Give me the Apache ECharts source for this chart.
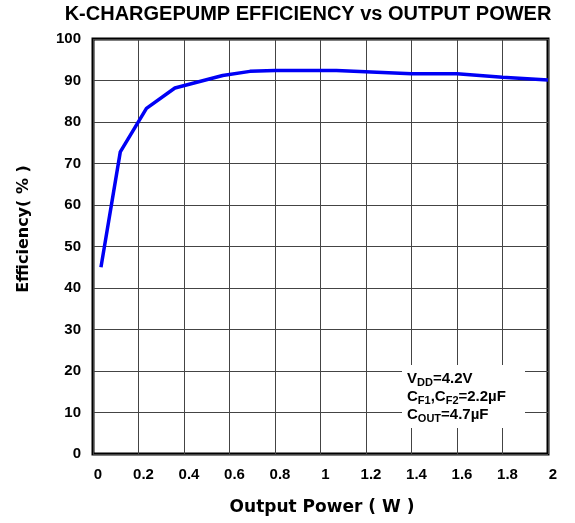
<!DOCTYPE html>
<html>
<head>
<meta charset="utf-8">
<script src="https://cdn.jsdelivr.net/npm/echarts@6/dist/echarts.min.js"></script>
<style>
  html, body { margin: 0; padding: 0; background: #fff; }
  #chart { width: 575px; height: 523px; }
</style>
</head>
<body>
<div id="chart"></div>
<script>
// output power (W) vs efficiency (%)
const powerW = [0.035, 0.12, 0.235, 0.36, 0.57, 0.69, 0.8, 1.07, 1.4, 1.6, 1.8, 2.0]
const efficiency = [45, 72.8, 83.3, 88.2, 91.2, 92.2, 92.4, 92.4, 91.6, 91.6, 90.8, 90.1]
const titleText = 'K-CHARGEPUMP EFFICIENCY vs OUTPUT POWER'
const xName = 'Output Power ( W )'
const yName = 'Efficiency( % )'

const font = 'Arial, "Liberation Sans", sans-serif'
const wide = '"DejaVu Sans", Arial, sans-serif'
const chart = echarts.init(document.getElementById('chart'))

chart.setOption({
  animation: false,
  grid: {
    left: 93, right: 27, top: 39, bottom: 69,
    show: true, borderColor: '#000', borderWidth: 3
  },
  xAxis: {
    type: 'value', min: 0, max: 2, interval: 0.2,
    axisLine: { show: false },
    axisTick: { show: false },
    axisLabel: {
      margin: 13, padding: [0, 0, 0, 10],
      color: '#000', fontSize: 15, fontWeight: 'bold', fontFamily: font
    },
    splitLine: { lineStyle: { color: '#444', width: 1 } }
  },
  yAxis: {
    type: 'value', min: 0, max: 100, interval: 10,
    axisLine: { show: false },
    axisTick: { show: false },
    axisLabel: { margin: 12, color: '#000', fontSize: 15, fontWeight: 'bold', fontFamily: font },
    splitLine: { lineStyle: { color: '#444', width: 1 } }
  },
  series: [{
    type: 'line',
    data: powerW.map((p, i) => [p, efficiency[i]]),
    showSymbol: false,
    lineStyle: { color: '#0000f5', width: 3.5 },
    z: 3
  }],
  graphic: [
    {
      type: 'text', x: 308, y: 14, z: 10,
      style: { text: titleText, align: 'center', verticalAlign: 'middle',
        font: 'bold 20px ' + font, fill: '#000' }
    },
    {
      type: 'text', x: 322, y: 508, z: 10,
      style: { text: xName, align: 'center', verticalAlign: 'middle',
        font: 'bold 17px ' + wide, fill: '#000' }
    },
    {
      type: 'text', x: 24, y: 229, rotation: Math.PI / 2, z: 10,
      style: { text: yName, align: 'center', verticalAlign: 'middle',
        font: 'bold 16px ' + wide, fill: '#000' }
    },
    {
      type: 'rect', z: 5,
      shape: { x: 402, y: 365, width: 123, height: 63 },
      style: { fill: '#fff' }
    },
    {
      type: 'text', x: 407, y: 368, z: 10,
      style: {
        text: '{b|V}{s|DD}{b|=4.2V}\n{b|C}{s|F1}{b|,C}{s|F2}{b|=2.2µF}\n{b|C}{s|OUT}{b|=4.7µF}',
        rich: {
          b: { fontSize: 15, fontWeight: 'bold', fontFamily: font, fill: '#000', lineHeight: 18, verticalAlign: 'bottom' },
          s: { fontSize: 11, fontWeight: 'bold', fontFamily: font, fill: '#000', lineHeight: 18, verticalAlign: 'bottom', padding: [0, 0, -2, 0] }
        }
      }
    }
  ]
})
</script>
</body>
</html>
